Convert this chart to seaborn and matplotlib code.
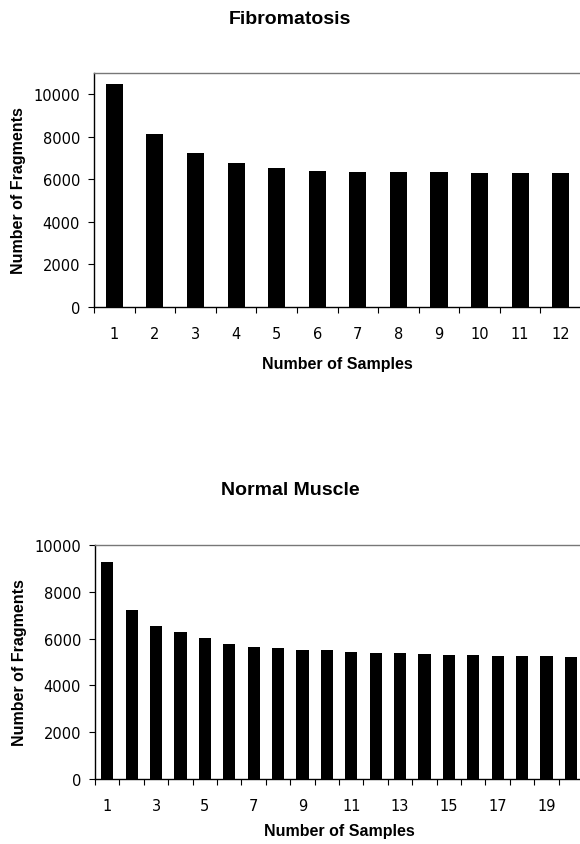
import matplotlib
matplotlib.use("Agg")
import matplotlib.pyplot as plt
import seaborn as sns
import pandas as pd
import numpy as np

# ---- data ----
fib_samples = list(range(1, 13))
fib_fragments = [10470, 8125, 7220, 6780, 6515, 6375, 6330, 6325, 6325, 6315, 6310, 6300]
fib_yticks = [0, 2000, 4000, 6000, 8000, 10000]
fib_xticklabels = [str(s) for s in fib_samples]

mus_samples = list(range(1, 21))
mus_fragments = [9290, 7210, 6555, 6295, 6025, 5755, 5640, 5585, 5525, 5500,
                 5440, 5370, 5370, 5340, 5300, 5300, 5270, 5270, 5255, 5230]
mus_yticks = [0, 2000, 4000, 6000, 8000, 10000]
mus_xticklabels = [str(s) if s % 2 == 1 else "" for s in mus_samples]

titles = ["Fibromatosis", "Normal Muscle"]
xlabel = "Number of Samples"
ylabel = "Number of Fragments"

sns.set_style("ticks")
plt.rcParams["font.family"] = ["Liberation Sans", "DejaVu Sans"]
plt.rcParams["text.color"] = "black"
plt.rcParams["axes.labelcolor"] = "black"
plt.rcParams["xtick.color"] = "black"
plt.rcParams["ytick.color"] = "black"
plt.rcParams["xtick.labelcolor"] = "black"
plt.rcParams["ytick.labelcolor"] = "black"

fig = plt.figure(figsize=(5.8, 8.45), dpi=100)
ax1 = fig.add_axes([0.1621, 0.6355, 0.8397, 0.2769])
ax2 = fig.add_axes([0.1638, 0.0769, 0.8414, 0.2769])


def draw(ax, samples, values, yticks, ymax, xticklabels, width, xlab_y):
    df = pd.DataFrame({"sample": samples, "fragments": values})
    sns.barplot(data=df, x="sample", y="fragments", color="black",
                saturation=1, width=width, ax=ax, edgecolor="none")
    n = len(samples)
    ax.set_xlim(-0.5, n - 0.5)
    ax.set_ylim(0, ymax)
    ax.set_yticks(yticks)
    ax.set_yticklabels([str(v) for v in yticks], fontfamily="DejaVu Sans",
                       fontsize=10.5, color="black")
    ax.set_xticks(range(n))
    ax.set_xticklabels(xticklabels, fontfamily="DejaVu Sans", fontsize=10.5,
                       color="black")
    ax.set_xticks(np.arange(n + 1) - 0.5, minor=True)
    ax.tick_params(axis="x", which="major", length=0, pad=14)
    ax.tick_params(axis="x", which="minor", length=4, width=0.8,
                   direction="out", color="black")
    ax.tick_params(axis="y", length=4, width=0.8, direction="out",
                   color="black", pad=6)
    ax.set_xlabel(xlabel, fontsize=11.5, fontweight="bold", color="black")
    ax.set_ylabel(ylabel, fontsize=11.5, fontweight="bold", color="black")
    ax.xaxis.set_label_coords(0.5, xlab_y)
    ax.yaxis.label.set_va("center")
    ax.yaxis.set_label_coords(-0.155, 0.5)
    for s in ["left", "bottom"]:
        ax.spines[s].set_color("black")
        ax.spines[s].set_linewidth(1.0)
    ax.spines["top"].set_visible(True)
    ax.spines["top"].set_color("#777777")
    ax.spines["top"].set_linewidth(1.0)
    ax.spines["right"].set_visible(False)
    ax.grid(False)


draw(ax1, fib_samples, fib_fragments, fib_yticks, 11000, fib_xticklabels, 0.42, -0.21)
draw(ax2, mus_samples, mus_fragments, mus_yticks, 10000, mus_xticklabels, 0.5, -0.19)

fig.text(0.5, 1 - 20 / 845, titles[0], ha="center", va="center",
         fontsize=14, fontweight="bold", color="black")
fig.text(0.5, 1 - 491 / 845, titles[1], ha="center", va="center",
         fontsize=14, fontweight="bold", color="black")

fig.savefig("out.png", dpi=100)
